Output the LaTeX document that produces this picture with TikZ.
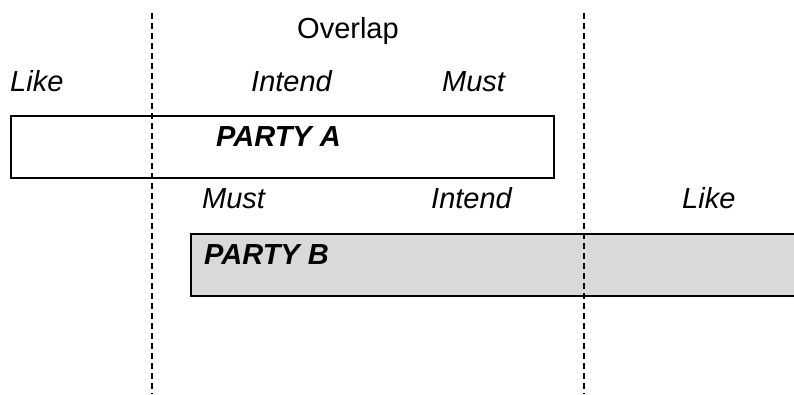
\documentclass[tikz,border=0pt]{standalone}
\usepackage{fontspec}
\setmainfont{Liberation Sans}
\begin{document}
\begin{tikzpicture}[x=1pt,y=-1pt,
  lbl/.style={inner sep=0pt,anchor=base west,font=\fontsize{29}{34}\selectfont\itshape},
  plain/.style={inner sep=0pt,anchor=base west,font=\fontsize{29}{34}\selectfont},
  party/.style={inner sep=0pt,anchor=base west,font=\fontsize{29}{34}\selectfont\bfseries\itshape},
  divider/.style={line width=1.5pt,dash pattern=on 6pt off 4pt},
  boxline/.style={line width=2pt}]
\useasboundingbox (0,0) rectangle (794,394);
% boxes
\node[boxline,draw,fill=white,minimum width=543pt,minimum height=62pt,anchor=north west,inner sep=0pt] (boxA) at (10,115) {};
\node[boxline,draw,fill=gray!30,minimum width=620pt,minimum height=62pt,anchor=north west,inner sep=0pt] (boxB) at (190,233) {};
% dividers
\coordinate (d1t) at (152,13);
\coordinate (d1b) at (152,394);
\coordinate (d2t) at (584,13);
\coordinate (d2b) at (584,394);
\draw[divider] (d1t) -- (d1b);
\draw[divider] (d2t) -- (d2b);
% labels
\node[plain] (overlap) at (297,38) {Overlap};
\node[lbl] (likeA) at (10,91) {Like};
\node[lbl] (intendA) at (251,91) {Intend};
\node[lbl] (mustA) at (442,91) {Must};
\node[party] (partyA) at (216,146) {PARTY A};
\node[lbl] (mustB) at (202,208) {Must};
\node[lbl] (intendB) at (431,208) {Intend};
\node[lbl] (likeB) at (682,208) {Like};
\node[party] (partyB) at (204,264) {PARTY B};
\end{tikzpicture}
\end{document}
